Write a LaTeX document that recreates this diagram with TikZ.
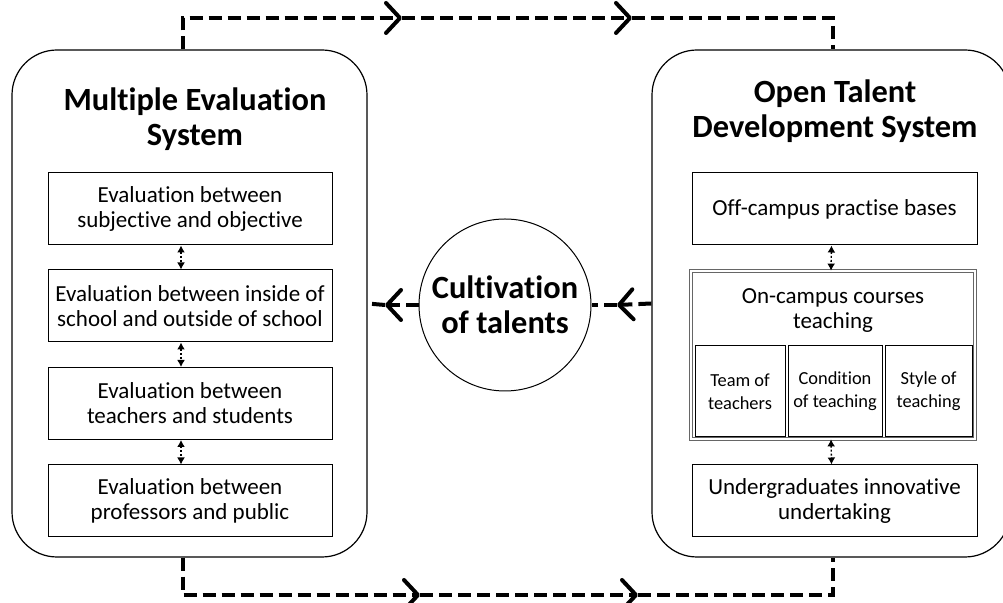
\documentclass[tikz,border=0pt]{standalone}
\usepackage{fontspec}
\setmainfont{Carlito}[Ligatures=NoCommon]
\usetikzlibrary{arrows.meta}
\usetikzlibrary{positioning}

\begin{document}
\begin{tikzpicture}[x=0.5pt,y=-0.5pt,
  every node/.style={font=\fontsize{11.5}{12.5}\selectfont,align=center},
  title/.style={font=\fontsize{16.2}{17.5}\selectfont\bfseries},
  systembox/.style={draw,line width=0.6pt,rounded corners=22.5pt,minimum width=177.5pt,minimum height=253.5pt},
  itembox/.style={draw,line width=0.5pt,minimum width=142pt,minimum height=36pt,inner sep=1pt},
  subbox/.style={draw,line width=0.5pt,minimum height=45.5pt,inner sep=1pt,font=\fontsize{9.2}{11.5}\selectfont},
  link/.style={line width=0.7pt,dash pattern=on 1pt off 1pt,{Latex[length=3.5pt,width=4pt]}-{Latex[length=3.5pt,width=4pt]}},
  flow/.style={line width=2pt,dash pattern=on 6.5pt off 3pt,-{Straight Barb[round,length=7pt,width=15pt]}}]
\useasboundingbox (0,0) rectangle (1003,603);
\clip (0,0) rectangle (1003,603);

% the two systems
\node[systembox] (mes) at (189.5,303.5) {};
\node[title] (mestitle) at (195,119) {Multiple Evaluation\\System};
\node[systembox,minimum width=179pt] (otds) at (831,303.5) {};
\node[title] (otdstitle) at (835,111) {Open Talent\\Development System};

% evaluation items
\node[itembox] (e1) at (190,209) {Evaluation between\\subjective and objective};
\node[itembox] (e2) at (190,306) {Evaluation between inside of\\school and outside of school};
\node[itembox] (e3) at (190,403.5) {Evaluation between\\teachers and students};
\node[itembox] (e4) at (190,501) {Evaluation between\\professors and public};
\draw[link] ([xshift=-4.5pt]e1.south) -- ([xshift=-4.5pt]e2.north);
\draw[link] ([xshift=-4.5pt]e2.south) -- ([xshift=-4.5pt]e3.north);
\draw[link] ([xshift=-4.5pt]e3.south) -- ([xshift=-4.5pt]e4.north);

% development items
\node[itembox,minimum width=142.5pt] (r1) at (834.5,209) {Off-campus practise bases};
\node[draw=gray!80!black,double=white,double distance=1pt,line width=0.4pt,minimum width=142pt,minimum height=84pt] (oncampus) at (833,355) {};
\node (oncampustext) at (833,311) {On-campus courses\\teaching};
\node[subbox,minimum width=45pt] (s1) at (740,391.5) {Team of\\teachers};
\node[subbox,minimum width=47pt] (s2) at (835,391.5) {Condition\\of teaching};
\node[subbox,minimum width=43.5pt] (s3) at (928.5,391.5) {Style of\\teaching};
\node[itembox,minimum width=142.5pt] (r3) at (834.5,501) {Undergraduates innovative\\undertaking};
\draw[link] ([xshift=-1.5pt]r1.south) -- ([xshift=-1pt]oncampus.north);
\draw[link] ([xshift=-1pt]oncampus.south) -- ([xshift=-1.5pt]r3.north);

% centre
\node[circle,draw,line width=0.5pt,minimum size=86pt,inner sep=0pt,title] (talent) at (505,305) {Cultivation\\of talents};

% flows
\coordinate (topl) at (183,18);
\coordinate (topr) at (833,18);
\coordinate (ta1) at (402,18);
\coordinate (ta2) at (632,18);
\coordinate (botl) at (183,595);
\coordinate (botr) at (833,595);
\coordinate (ba1) at (420,595);
\coordinate (ba2) at (638,595);
\coordinate (la) at (385,305);
\coordinate (ra) at (617,305);
\draw[flow] (mes.north -| topl) -- (topl) -- (ta1);
\draw[flow] (ta1) -- (ta2);
\draw[flow,-] (ta2) -- (topr) -- (otds.north -| topr);
\draw[flow] (mes.south -| botl) -- (botl) -- (ba1);
\draw[flow] (ba1) -- (ba2);
\draw[flow,-] (ba2) -- (botr) -- (otds.south -| botr);
\draw[flow] (talent.west) -- (la);
\draw[flow,-] (la) -- (mes.east);
\draw[flow] (otds.west) -- (ra);
\draw[flow,-] (ra) -- (talent.east);
\end{tikzpicture}
\end{document}
